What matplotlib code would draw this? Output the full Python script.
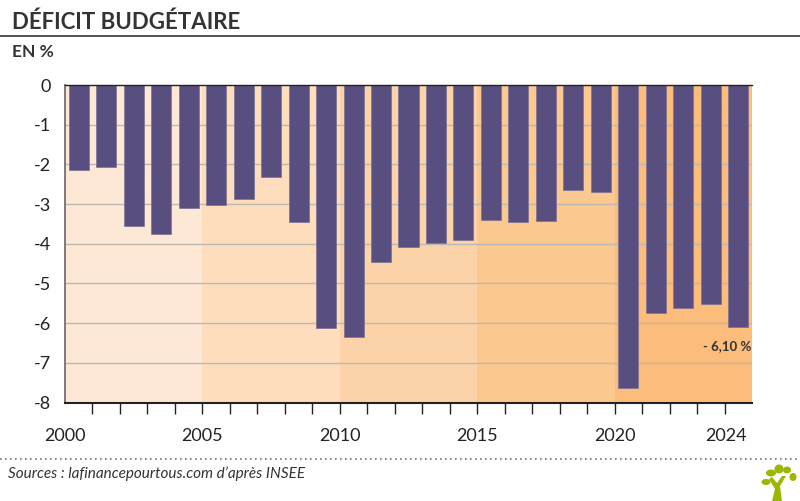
import matplotlib
matplotlib.use('Agg')
import matplotlib.pyplot as plt
from matplotlib.patches import Ellipse, Polygon
import numpy as np

plt.rcParams['font.family'] = ['Lato', 'DejaVu Sans']

# deficit en % du PIB
years = list(range(2000, 2025))
deficit = [-2.15, -2.07, -3.55, -3.75, -3.10, -3.02, -2.87, -2.33, -3.45, -6.13,
           -6.35, -4.47, -4.07, -3.98, -3.90, -3.40, -3.45, -3.42, -2.65, -2.70,
           -7.63, -5.75, -5.62, -5.52, -6.10]
y_ticks = [0, -1, -2, -3, -4, -5, -6, -7, -8]
x_labels = [2000, 2005, 2010, 2015, 2020, 2024]

# bandes de fond par periode
band_starts = [2000, 2005, 2010, 2015, 2020]
band_ends = [2005, 2010, 2015, 2020, 2025]
band_colors = ['#FCE8D5', '#FDDDBC', '#FCD3A8', '#FBC88F', '#FBBC7C']

W, H = 800, 501
fig = plt.figure(figsize=(W / 100, H / 100), dpi=100, facecolor='white')
ax = fig.add_axes([65 / W, 1 - 402.5 / H, (752 - 65) / W, (402.5 - 85) / H])

for start, end, col in zip(band_starts, band_ends, band_colors):
    ax.axvspan(start, end, color=col, lw=0, zorder=0)

for t in y_ticks[1:-1]:
    ax.axhline(t, color='#BDB8B0', lw=1, zorder=1)

centers = np.array(years) + 0.5
ax.bar(centers, deficit, width=0.73, color='#584E7F', edgecolor='#7A7196', lw=0.5, zorder=2)

ax.set_xlim(2000, 2025)
ax.set_ylim(-8, 0)
ax.spines['right'].set_visible(False)
ax.spines['top'].set_color('#222222')
ax.spines['top'].set_linewidth(1)
ax.spines['left'].set_color('#666666')
ax.spines['left'].set_linewidth(1.2)
ax.spines['bottom'].set_color('#222222')
ax.spines['bottom'].set_linewidth(1.5)

ax.set_yticks(y_ticks)
ax.set_yticklabels([str(t) for t in y_ticks], fontsize=13, color='#222222')
ax.tick_params(axis='y', length=0, pad=10)

ax.set_xticks(years[1:])
ax.set_xticklabels([])
ax.tick_params(axis='x', length=8, width=1, color='#222222')

for yr in x_labels:
    xpos = yr if yr != 2024 else yr + 0.05
    ax.annotate(str(yr), (xpos, 0), xycoords=('data', 'axes fraction'), xytext=(0, -24),
                textcoords='offset points', ha='center', va='center', fontsize=13, color='#222222')

ax.text(2024.98, -6.58, '- 6,10 %', ha='right', va='center', fontsize=9.5,
        fontweight='bold', color='#333333', zorder=3)

# titre et filets
fig.text(12 / W, 1 - 22 / H, 'DÉFICIT BUDGÉTAIRE', fontsize=16, fontweight='bold',
         color='#333333', ha='left', va='center')
fig.add_artist(plt.Line2D([0, 1], [1 - 36 / H] * 2, color='#333333', lw=1.2))
fig.text(12 / W, 1 - 52 / H, 'EN %', fontsize=12.5, fontweight='bold', color='#333333',
         ha='left', va='center')
fig.add_artist(plt.Line2D([0, 1], [1 - 458.5 / H] * 2, color='#777777', lw=1.2,
                          linestyle=(0, (1, 2))))
fig.text(8 / W, 1 - 474 / H, 'Sources : lafinancepourtous.com d’après INSEE', fontsize=11,
         style='italic', color='#333333', ha='left', va='center')

# petit logo arbre
logo = fig.add_axes([755 / W, 0, 45 / W, 40 / H])
logo.set_xlim(755, 800)
logo.set_ylim(501, 461)
logo.axis('off')
green = '#9DB600'
logo.add_patch(Polygon([[772, 501], [782, 501], [780, 486], [786, 476], [782, 476],
                        [777, 483], [772, 477], [769, 479], [775, 489]], color=green, lw=0))
for cx, cy, w, h in [(779, 469, 9, 9), (771, 473, 10, 7), (766, 482, 9, 6),
                     (787, 470, 8, 7), (793, 477, 7, 8)]:
    logo.add_patch(Ellipse((cx, cy), w, h, color=green, lw=0))

fig.savefig('out.png', dpi=100)
